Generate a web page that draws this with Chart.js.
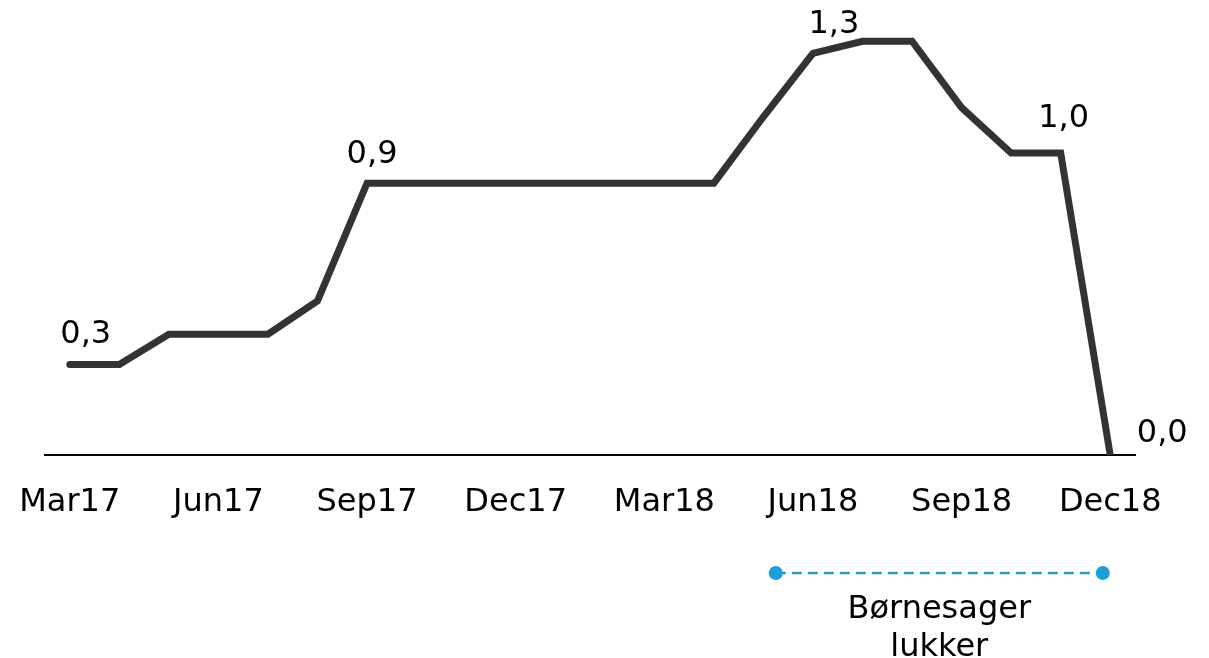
<!DOCTYPE html>
<html>
<head>
<meta charset="utf-8">
<script src="https://cdn.jsdelivr.net/npm/chart.js@4/dist/chart.umd.min.js"></script>
<style>
  html, body { margin: 0; padding: 0; background: #fff; }
  #wrap { width: 1209px; height: 658px; position: relative; }
</style>
</head>
<body>
<div id="wrap"><canvas id="chart"></canvas></div>
<script>
// months on the x axis
var maaneder = ['Mar17', 'Apr17', 'Maj17', 'Jun17', 'Jul17', 'Aug17', 'Sep17', 'Okt17', 'Nov17', 'Dec17', 'Jan18', 'Feb18',
                'Mar18', 'Apr18', 'Maj18', 'Jun18', 'Jul18', 'Aug18', 'Sep18', 'Okt18', 'Nov18', 'Dec18'];
// only these are written under the axis
var tickLabels = ['Mar17', 'Jun17', 'Sep17', 'Dec17', 'Mar18', 'Jun18', 'Sep18', 'Dec18'];
var vaerdier = [0.30, 0.30, 0.40, 0.40, 0.40, 0.51, 0.90, 0.90, 0.90, 0.90, 0.90, 0.90,
                0.90, 0.90, 1.12, 1.33, 1.37, 1.37, 1.15, 1.00, 1.00, 0.00];
// points that carry a value label
var labelPunkter = [0, 6, 15, 20, 21];
// period where børnesager lukker (in months from Mar17)
var lukkePeriode = [14.25, 20.85];
var lukkeTekst = ['Børnesager', 'lukker'];

var FONT = '"DejaVu Sans", Verdana, sans-serif';

// hand placed labels, like the excel original
var labelOffsets = {
    0:  { dx: 16, dy: -21 },
    6:  { dx: 5,  dy: -20 },
    15: { dx: 21, dy: -20 },
    20: { dx: 3,  dy: -26 },
    21: { dx: 52, dy: -13 }
};

var dataLabels = {
    id: 'dataLabels',
    afterDatasetsDraw: function (chart) {
        var ctx = chart.ctx;
        var meta = chart.getDatasetMeta(0);
        ctx.save();
        ctx.font = '32px ' + FONT;
        ctx.fillStyle = '#000';
        ctx.textAlign = 'center';
        ctx.textBaseline = 'alphabetic';
        labelPunkter.forEach(function (i) {
            var p = meta.data[i];
            var o = labelOffsets[i] || { dx: 0, dy: -20 };
            var txt = vaerdier[i].toFixed(1).replace('.', ',');
            ctx.fillText(txt, p.x + o.dx, p.y + o.dy);
        });
        ctx.restore();
    }
};

var periode = {
    id: 'periode',
    afterDraw: function (chart) {
        var ctx = chart.ctx;
        var xs = chart.scales.x;
        var x1 = xs.getPixelForValue(lukkePeriode[0]);
        var x2 = xs.getPixelForValue(lukkePeriode[1]);
        var y = chart.chartArea.bottom + 118;
        var blue = '#1a9fdb';
        ctx.save();
        ctx.strokeStyle = blue;
        ctx.lineWidth = 2.5;
        ctx.setLineDash([10, 6]);
        ctx.beginPath();
        ctx.moveTo(x1, y);
        ctx.lineTo(x2, y);
        ctx.stroke();
        ctx.setLineDash([]);
        ctx.fillStyle = blue;
        [x1, x2].forEach(function (x) {
            ctx.beginPath();
            ctx.arc(x, y, 7, 0, Math.PI * 2);
            ctx.fill();
        });
        ctx.fillStyle = '#000';
        ctx.font = '32px ' + FONT;
        ctx.textAlign = 'center';
        ctx.textBaseline = 'alphabetic';
        var cx = (x1 + x2) / 2;
        ctx.fillText(lukkeTekst[0], cx, y + 45);
        ctx.fillText(lukkeTekst[1], cx, y + 83);
        ctx.restore();
    }
};

var chart = new Chart(document.getElementById('chart'), {
    type: 'line',
    data: {
        labels: maaneder,
        datasets: [{
            data: vaerdier,
            borderColor: '#333333',
            borderWidth: 7,
            borderCapStyle: 'round',
            borderJoinStyle: 'miter',
            pointRadius: 0,
            tension: 0,
            fill: false
        }]
    },
    options: {
        responsive: true,
        maintainAspectRatio: false,
        animation: false,
        layout: {
            padding: { top: 2, left: 45, right: 74, bottom: 0 }
        },
        plugins: {
            legend: { display: false },
            tooltip: { enabled: false }
        },
        scales: {
            y: {
                display: false,
                min: 0,
                max: 1.5
            },
            x: {
                offset: true,
                grid: { display: false },
                border: { display: true, color: '#000', width: 2 },
                afterFit: function (scale) {
                    scale.height = 203;
                    // labels may hang outside, the layout padding is enough
                    scale.paddingLeft = 0;
                    scale.paddingRight = 0;
                },
                ticks: {
                    autoSkip: false,
                    maxRotation: 0,
                    padding: 20,
                    color: '#000',
                    font: { family: FONT, size: 32 },
                    callback: function (value, index) {
                        return index % 3 === 0 ? tickLabels[index / 3] : '';
                    }
                }
            }
        }
    },
    plugins: [dataLabels, periode]
});
</script>
</body>
</html>
